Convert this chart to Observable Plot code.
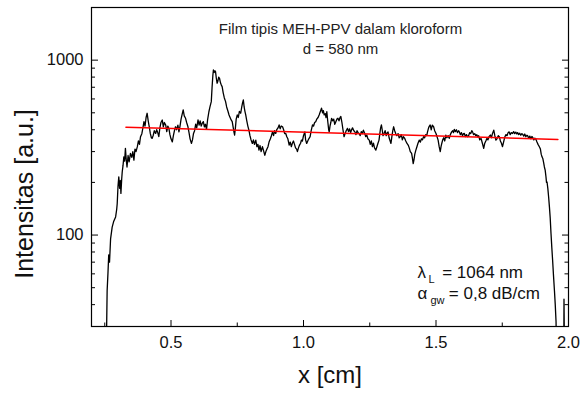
<!DOCTYPE html>
<html><head><meta charset="utf-8">
<script src="https://cdn.jsdelivr.net/npm/d3@7"></script>
<script src="https://cdn.jsdelivr.net/npm/@observablehq/plot@0.6"></script>
<style>body{margin:0;background:#fff} svg{display:block}</style>
</head><body><div id="chart"></div>
<script>
// measured profile: position x [cm] and intensity [a.u.]
const posX = [0.254,0.257,0.259,0.262,0.265,0.268,0.272,0.278,0.284,0.291,0.295,0.297,0.300,0.303,0.306,0.309,0.311,0.314,0.316,0.319,0.322,0.325,0.328,0.331,0.334,0.338,0.342,0.347,0.352,0.356,0.360,0.364,0.368,0.373,0.377,0.381,0.385,0.390,0.394,0.398,0.402,0.406,0.410,0.414,0.418,0.422,0.426,0.429,0.433,0.437,0.442,0.446,0.450,0.454,0.458,0.462,0.467,0.471,0.475,0.480,0.484,0.488,0.492,0.496,0.500,0.505,0.509,0.513,0.517,0.521,0.526,0.530,0.534,0.538,0.542,0.546,0.550,0.555,0.559,0.564,0.568,0.572,0.577,0.581,0.585,0.589,0.593,0.597,0.602,0.606,0.610,0.614,0.618,0.622,0.626,0.630,0.634,0.638,0.643,0.647,0.652,0.655,0.658,0.660,0.663,0.666,0.668,0.671,0.674,0.677,0.680,0.683,0.687,0.690,0.693,0.697,0.701,0.706,0.710,0.715,0.719,0.723,0.727,0.731,0.735,0.738,0.740,0.743,0.746,0.750,0.754,0.758,0.763,0.767,0.770,0.773,0.776,0.779,0.782,0.786,0.790,0.794,0.798,0.802,0.807,0.811,0.815,0.820,0.824,0.828,0.832,0.836,0.840,0.845,0.849,0.854,0.858,0.862,0.866,0.870,0.875,0.879,0.883,0.887,0.891,0.895,0.899,0.904,0.908,0.912,0.916,0.921,0.925,0.929,0.933,0.937,0.941,0.946,0.950,0.954,0.958,0.962,0.966,0.970,0.974,0.977,0.981,0.985,0.989,0.992,0.996,1.000,1.005,1.008,1.012,1.016,1.020,1.025,1.029,1.034,1.038,1.042,1.046,1.050,1.055,1.059,1.063,1.068,1.072,1.075,1.078,1.082,1.085,1.088,1.092,1.095,1.097,1.100,1.103,1.106,1.110,1.114,1.118,1.122,1.126,1.130,1.134,1.138,1.141,1.145,1.149,1.153,1.157,1.161,1.166,1.170,1.174,1.178,1.181,1.185,1.190,1.194,1.198,1.202,1.206,1.210,1.214,1.218,1.222,1.226,1.230,1.235,1.239,1.243,1.248,1.252,1.256,1.260,1.264,1.268,1.273,1.277,1.281,1.285,1.288,1.291,1.294,1.297,1.300,1.304,1.308,1.312,1.316,1.319,1.323,1.327,1.330,1.334,1.337,1.340,1.344,1.348,1.352,1.357,1.361,1.365,1.369,1.373,1.377,1.382,1.386,1.390,1.395,1.399,1.403,1.408,1.411,1.414,1.417,1.420,1.424,1.428,1.432,1.437,1.441,1.445,1.449,1.453,1.457,1.461,1.465,1.468,1.472,1.475,1.478,1.482,1.486,1.491,1.495,1.500,1.504,1.508,1.512,1.516,1.519,1.522,1.525,1.529,1.533,1.537,1.541,1.546,1.550,1.554,1.559,1.563,1.566,1.569,1.573,1.577,1.581,1.585,1.588,1.592,1.596,1.600,1.604,1.607,1.611,1.615,1.619,1.623,1.627,1.631,1.635,1.638,1.642,1.646,1.650,1.654,1.657,1.661,1.665,1.670,1.675,1.680,1.684,1.688,1.692,1.696,1.700,1.705,1.709,1.713,1.718,1.722,1.726,1.730,1.735,1.739,1.743,1.747,1.751,1.755,1.760,1.764,1.768,1.772,1.776,1.780,1.784,1.789,1.793,1.797,1.801,1.805,1.808,1.812,1.816,1.820,1.824,1.827,1.831,1.835,1.839,1.843,1.846,1.850,1.854,1.858,1.862,1.865,1.869,1.873,1.877,1.881,1.885,1.890,1.894,1.897,1.900,1.903,1.906,1.909,1.912,1.915,1.917,1.919,1.922,1.925,1.928,1.931,1.934,1.937,1.940,1.943,1.947,1.950,1.953,1.955,1.958,1.962,1.982,1.983,1.985];
const intensity = [20,29,48,60,77,70,95,111,120,127,140,151,190,215,185,205,173,210,230,250,280,265,313,270,245,285,262,293,278,300,268,310,300,320,345,330,365,380,410,445,420,470,497,450,416,380,360,357,372,395,381,400,385,365,410,440,455,415,440,426,390,420,407,375,355,341,370,395,416,400,425,389,420,460,490,519,480,465,440,416,385,355,334,350,381,395,430,410,455,425,450,420,436,445,415,430,402,455,507,540,579,700,820,879,850,870,860,790,738,760,800,788,740,720,706,650,610,579,540,510,486,470,455,445,410,385,373,410,460,486,470,510,497,540,570,592,540,510,486,450,420,398,370,350,334,350,330,349,320,330,306,325,300,320,305,286,300,310,320,340,355,370,389,370,395,381,400,410,426,405,420,416,400,380,381,365,355,327,340,320,335,345,330,315,310,300,315,327,335,349,345,370,389,350,334,345,355,365,395,426,420,440,445,460,470,486,505,531,500,515,486,495,470,507,440,400,389,420,440,465,450,460,430,445,460,465,450,470,476,440,400,365,380,395,407,390,405,385,398,410,395,389,375,395,385,381,370,390,380,398,385,365,373,355,349,330,345,320,335,315,306,320,335,349,380,410,426,400,370,381,395,370,385,389,360,345,334,370,395,416,395,381,370,380,360,365,375,350,365,357,345,335,327,315,300,293,275,256,270,290,306,320,335,349,340,355,350,365,360,375,370,389,410,420,426,400,425,416,395,381,365,349,320,300,320,335,349,360,345,373,360,370,357,375,389,395,385,402,390,400,385,395,389,375,385,370,380,381,365,375,365,370,385,380,395,389,375,380,370,375,365,370,350,357,335,313,335,345,357,350,365,373,360,380,398,370,349,355,370,365,345,335,320,340,365,375,370,385,389,375,385,381,390,380,388,378,385,375,382,372,380,377,368,378,365,372,369,358,368,355,366,362,350,358,353,340,330,320,310,290,280,274,260,245,235,215,200,201,185,165,145,125,102,85,72,60,48,40,32,20,25,20,20,43,20];
// exponential fit (straight on log axis)
const fitX = [0.33, 1.96];
const fitY = [414, 352];
// ticks
const xMajor = [0.5, 1.0, 1.5, 2.0];
const xMinor = [0.25, 0.75, 1.25, 1.75];
const yMajor = [100, 1000];
const yMinor = [40, 50, 60, 70, 80, 90, 200, 300, 400, 500, 600, 700, 800, 900];
const titleLines = ["Film tipis MEH-PPV dalam kloroform", "d = 580 nm"];
const xLabel = "x [cm]";
const yLabel = "Intensitas [a.u.]";

const W = 582, H = 393, mL = 91, mR = 14, mT = 7, mB = 67;
const fw = W - mL - mR, fh = H - mT - mB;
const data = posX.map((x, i) => ({x, y: intensity[i]}));
const fit = fitX.map((x, i) => ({x, y: fitY[i]}));
const font = "'Liberation Sans', Arial, Helvetica, sans-serif";
const txt = (s, o) => Plot.text([s], {text: d => d, frameAnchor: "top-left", textAnchor: "start", lineAnchor: "bottom", fill: "#111", ...o});

const chart = Plot.plot({
  width: W, height: H,
  marginLeft: mL, marginRight: mR, marginTop: mT, marginBottom: mB,
  style: {fontFamily: font, fontSize: "16.5px", background: "#fff", color: "#111"},
  x: {domain: [0.2, 2.0]},
  y: {type: "log", domain: [30, 2000]},
  marks: [
    Plot.line(data, {x: "x", y: "y", stroke: "#000", strokeWidth: 1.3, clip: true}),
    Plot.line(fit, {x: "x", y: "y", stroke: "#ff0000", strokeWidth: 1.5}),
    Plot.frame({stroke: "#000", strokeWidth: 1.2}),
    Plot.tickY(yMajor, {y: d => d, insetRight: fw - 7, stroke: "#000"}),
    Plot.tickY(yMinor, {y: d => d, insetRight: fw - 4, stroke: "#000"}),
    Plot.tickY(yMajor, {y: d => d, insetLeft: fw - 6, stroke: "#000"}),
    Plot.tickY(yMinor, {y: d => d, insetLeft: fw - 3.5, stroke: "#000"}),
    Plot.tickX(xMajor, {x: d => d, insetTop: fh - 6, stroke: "#000"}),
    Plot.tickX(xMinor, {x: d => d, insetTop: fh - 3.5, stroke: "#000"}),
    Plot.axisY(yMajor, {anchor: "left", tickSize: 0, tickPadding: 8, tickFormat: d => String(d), label: null, fill: "#111"}),
    Plot.axisX(xMajor, {anchor: "bottom", tickSize: 0, tickPadding: 10, tickFormat: d3.format(".1f"), label: null, fill: "#111"}),
    Plot.text([titleLines[0]], {text: d => d, frameAnchor: "top", textAnchor: "middle", dx: 10.5, dy: 26, lineAnchor: "bottom", fontSize: 15, fill: "#222"}),
    Plot.text([titleLines[1]], {text: d => d, frameAnchor: "top", textAnchor: "middle", dx: 10.5, dy: 46, lineAnchor: "bottom", fontSize: 15, fill: "#222"}),
    txt("λ", {dx: 326, dy: 270, fontSize: 17}),
    txt("L", {dx: 337, dy: 275, fontSize: 11}),
    txt("= 1064 nm", {dx: 350.7, dy: 270, fontSize: 17}),
    txt("α", {dx: 326, dy: 291.3, fontSize: 17}),
    txt("gw", {dx: 339, dy: 296.3, fontSize: 11}),
    txt("= 0,8 dB/cm", {dx: 357.3, dy: 291.3, fontSize: 17}),
    Plot.text([xLabel], {text: d => d, frameAnchor: "bottom", textAnchor: "middle", dy: 56, lineAnchor: "bottom", fontSize: 24, fill: "#111"}),
    Plot.text([yLabel], {text: d => d, frameAnchor: "left", textAnchor: "middle", dx: -59, dy: 27, rotate: -90, lineAnchor: "bottom", fontSize: 25, fill: "#111"})
  ]
});
document.getElementById("chart").appendChild(chart);
</script>
</body></html>
